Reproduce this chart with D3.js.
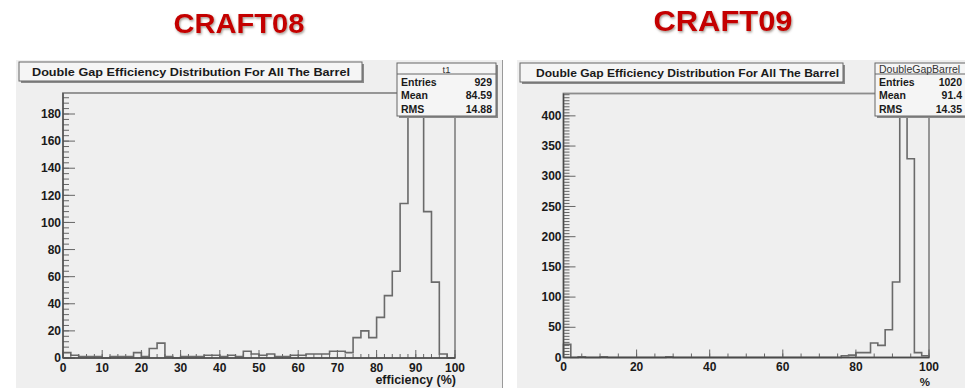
<!DOCTYPE html>
<html>
<head>
<meta charset="utf-8">
<script src="https://cdn.jsdelivr.net/npm/d3@7"></script>
<style>
  html, body { margin: 0; padding: 0; background: #fff; }
  svg { display: block; }
</style>
</head>
<body>
<svg id="chart" width="965" height="388"></svg>
<script>
// bin edges of both histograms (50 bins, 2 % wide)
var binEdges = [0, 2, 4, 6, 8, 10, 12, 14, 16, 18, 20, 22, 24, 26, 28, 30, 32, 34, 36, 38, 40,
  42, 44, 46, 48, 50, 52, 54, 56, 58, 60, 62, 64, 66, 68, 70, 72, 74, 76, 78, 80,
  82, 84, 86, 88, 90, 92, 94, 96, 98, 100];

var craft08Counts = [4, 2, 1, 1, 1, 0, 1, 1, 1, 4, 1, 7, 11, 1, 0, 1, 1, 1, 2, 2,
  1, 2, 1, 5, 3, 2, 3, 1, 1, 2, 2, 3, 3, 3, 5, 5, 4, 15, 20, 15,
  30, 46, 64, 114, 186, 180, 108, 56, 3, 0];
var craft09Counts = [22, 0, 1, 0, 0, 1, 0, 0, 0, 0, 0, 0, 0, 0, 1, 0, 0, 0, 0, 0,
  0, 0, 0, 0, 0, 0, 0, 0, 0, 0, 0, 0, 0, 0, 0, 0, 0, 0, 3, 4,
  8, 8, 24, 20, 46, 125, 416, 329, 8, 3];

var statLabels = ['Entries', 'Mean', 'RMS'];
var craft08Stats = ['929', '84.59', '14.88'];
var craft09Stats = ['1020', '91.4', '14.35'];

var craft08XTicks = [0, 10, 20, 30, 40, 50, 60, 70, 80, 90, 100];
var craft08YTicks = [0, 20, 40, 60, 80, 100, 120, 140, 160, 180];
var craft09XTicks = [0, 20, 40, 60, 80, 100];
var craft09YTicks = [0, 50, 100, 150, 200, 250, 300, 350, 400];

var runTitles = ['CRAFT08', 'CRAFT09'];
var histTitle = 'Double Gap Efficiency Distribution For All The Barrel';
var histNames = ['t1', 'DoubleGapBarrel'];
var xTitles = ['efficiency (%)', '%'];

var rootPlot = (function (undefined) {
  "use strict";

  function HistPanel(svg, options) {
    this.svg = svg;
    this.options = Object.assign({}, {
      fontFamily: '"Liberation Sans", Arial, Helvetica, sans-serif',
      lineColor: '#6a6a6a',
      axisColor: '#4a4a4a',
      labelSize: 12
    }, options);
    this.refs = { node: undefined, x: undefined, y: undefined };
  }

  HistPanel.prototype = function HistPanelProto() {

    function draw() {
      var o = this.options;
      this.refs.node = this.svg.append('g').attr('class', 'panel-' + o.name);

      this.refs.x = d3.scaleLinear().domain([0, 100]).range([o.frame.x0, o.frame.x1]);
      this.refs.y = d3.scaleLinear().domain([0, o.yMax]).range([o.frame.y0, o.frame.y1]);

      drawBackground.call(this);
      drawFrame.call(this);
      drawHist.call(this);
      drawAxes.call(this);
      drawTitleBox.call(this);
      drawStats.call(this);
      drawRunTitle.call(this);
    }

    function drawBackground() {
      var o = this.options;
      this.refs.node.append('rect')
        .attr('x', o.bg.x).attr('y', o.bg.y)
        .attr('width', o.bg.w).attr('height', o.bg.h)
        .attr('fill', '#efefef');
    }

    function drawFrame() {
      var f = this.options.frame;
      this.refs.node.append('rect')
        .attr('x', f.x0).attr('y', f.y1)
        .attr('width', f.x1 - f.x0).attr('height', f.y0 - f.y1)
        .attr('fill', 'none')
        .attr('stroke', '#8c8c8c')
        .attr('stroke-width', 1.8);
    }

    function drawHist() {
      var o = this.options, x = this.refs.x, y = this.refs.y;
      var pts = [[x(binEdges[0]), y(0)]];
      o.counts.forEach(function (c, i) {
        pts.push([x(binEdges[i]), y(c)]);
        pts.push([x(binEdges[i + 1]), y(c)]);
      });
      pts.push([x(binEdges[binEdges.length - 1]), y(0)]);

      this.refs.node.append('path')
        .attr('d', d3.line()(pts))
        .attr('fill', 'none')
        .attr('stroke', o.lineColor)
        .attr('stroke-width', 1.6);
    }

    function drawAxes() {
      var o = this.options, f = o.frame, x = this.refs.x, y = this.refs.y;
      var g = this.refs.node.append('g').attr('class', 'axes');

      // minor ticks first, major ones over them
      var xMinor = d3.range(0, 100 + 1e-9, o.xMinor);
      var yMinor = d3.range(0, o.yMax, o.yMinor);

      g.selectAll('line.xminor').data(xMinor).enter().append('line')
        .attr('class', 'xminor')
        .attr('x1', function (d) { return x(d); }).attr('x2', function (d) { return x(d); })
        .attr('y1', f.y0).attr('y2', f.y0 - 4)
        .attr('stroke', '#666');
      g.selectAll('line.xmajor').data(o.xTicks).enter().append('line')
        .attr('class', 'xmajor')
        .attr('x1', function (d) { return x(d); }).attr('x2', function (d) { return x(d); })
        .attr('y1', f.y0).attr('y2', f.y0 - 8)
        .attr('stroke', '#666');
      g.selectAll('line.yminor').data(yMinor).enter().append('line')
        .attr('class', 'yminor')
        .attr('y1', function (d) { return y(d); }).attr('y2', function (d) { return y(d); })
        .attr('x1', f.x0).attr('x2', f.x0 + 6)
        .attr('stroke', '#666');
      g.selectAll('line.ymajor').data(o.yTicks).enter().append('line')
        .attr('class', 'ymajor')
        .attr('y1', function (d) { return y(d); }).attr('y2', function (d) { return y(d); })
        .attr('x1', f.x0).attr('x2', f.x0 + 12)
        .attr('stroke', '#666');

      g.append('line')
        .attr('x1', f.x0).attr('x2', f.x1).attr('y1', f.y0).attr('y2', f.y0)
        .attr('stroke', o.axisColor).attr('stroke-width', 1.3);
      g.append('line')
        .attr('x1', f.x0).attr('x2', f.x0).attr('y1', f.y0).attr('y2', f.y1)
        .attr('stroke', o.axisColor).attr('stroke-width', 1.3);

      g.selectAll('text.xlab').data(o.xTicks).enter().append('text')
        .attr('class', 'xlab')
        .attr('x', function (d) { return x(d); })
        .attr('y', f.y0 + 13.5)
        .attr('text-anchor', 'middle')
        .attr('font-family', o.fontFamily)
        .attr('font-weight', 'bold')
        .attr('font-size', o.labelSize)
        .attr('fill', '#1a1a1a')
        .text(function (d) { return d; });
      g.selectAll('text.ylab').data(o.yTicks).enter().append('text')
        .attr('class', 'ylab')
        .attr('x', f.x0 - 2)
        .attr('y', function (d) { return y(d) + 4.2; })
        .attr('text-anchor', 'end')
        .attr('font-family', o.fontFamily)
        .attr('font-weight', 'bold')
        .attr('font-size', o.labelSize)
        .attr('fill', '#1a1a1a')
        .text(function (d) { return d; });

      g.append('text')
        .attr('x', f.x1 + 1)
        .attr('y', o.xTitleY)
        .attr('text-anchor', 'end')
        .attr('font-family', o.fontFamily)
        .attr('font-weight', 'bold')
        .attr('font-size', o.xTitleSize)
        .attr('fill', '#1a1a1a')
        .text(o.xTitle);
    }

    function drawTitleBox() {
      var o = this.options, b = o.titleBox;
      var g = this.refs.node.append('g').attr('class', 'title-box');
      g.append('rect')
        .attr('x', b.x + 2).attr('y', b.y + 2).attr('width', b.w).attr('height', b.h)
        .attr('fill', '#8a8a8a');
      g.append('rect')
        .attr('x', b.x).attr('y', b.y).attr('width', b.w).attr('height', b.h)
        .attr('fill', '#f5f5f5').attr('stroke', '#666').attr('stroke-width', 1);
      g.append('text')
        .attr('x', b.textX)
        .attr('y', b.y + 13.5)
        .attr('font-family', o.fontFamily)
        .attr('font-weight', 'bold')
        .attr('font-size', 10.5)
        .attr('fill', '#1a1a1a')
        .attr('textLength', b.textW)
        .attr('lengthAdjust', 'spacingAndGlyphs')
        .text(histTitle);
    }

    function drawStats() {
      var o = this.options, s = o.stats;
      var g = this.refs.node.append('g').attr('class', 'stats-box');
      g.append('rect')
        .attr('x', s.x + 2).attr('y', s.y + 2).attr('width', s.w).attr('height', s.h)
        .attr('fill', '#8a8a8a');
      g.append('rect')
        .attr('x', s.x).attr('y', s.y).attr('width', s.w).attr('height', s.h)
        .attr('fill', '#f5f5f5').attr('stroke', '#666').attr('stroke-width', 1);
      g.append('line')
        .attr('x1', s.x).attr('x2', s.x + s.w)
        .attr('y1', s.y + 11).attr('y2', s.y + 11)
        .attr('stroke', '#666');
      g.append('text')
        .attr('x', s.nameX)
        .attr('y', s.y + 9.5)
        .attr('text-anchor', s.nameAnchor)
        .attr('font-family', o.fontFamily)
        .attr('font-size', s.nameSize)
        .attr('fill', '#333')
        .text(o.histName);

      statLabels.forEach(function (lab, i) {
        var yy = s.y + 23 + i * 13.3;
        g.append('text')
          .attr('x', s.x + 4).attr('y', yy)
          .attr('font-family', o.fontFamily)
          .attr('font-weight', 'bold')
          .attr('font-size', 10.5)
          .attr('fill', '#1a1a1a')
          .text(lab);
        g.append('text')
          .attr('x', s.valueX).attr('y', yy)
          .attr('text-anchor', 'end')
          .attr('font-family', o.fontFamily)
          .attr('font-weight', 'bold')
          .attr('font-size', 10.5)
          .attr('fill', '#1a1a1a')
          .text(o.statValues[i]);
      });
    }

    function drawRunTitle() {
      var o = this.options, t = o.runTitle;
      this.refs.node.append('text')
        .attr('x', t.cx)
        .attr('y', t.y)
        .attr('text-anchor', 'middle')
        .attr('font-family', o.fontFamily)
        .attr('font-weight', 'bold')
        .attr('font-size', t.size)
        .attr('fill', '#c40000')
        .attr('textLength', t.w)
        .attr('lengthAdjust', 'spacingAndGlyphs')
        .attr('filter', 'url(#shade)')
        .text(o.runName);
    }

    return {
      draw: draw
    };
  }();

  function panel(svg, options) {
    var p = new HistPanel(svg, options);
    p.draw();
    return p;
  }

  return {
    panel: panel
  };
}());

var svg = d3.select('#chart');
svg.append('defs').append('filter')
  .attr('id', 'shade')
  .attr('x', '-10%').attr('y', '-20%').attr('width', '130%').attr('height', '160%')
  .append('feDropShadow')
  .attr('dx', 1).attr('dy', 1.5).attr('stdDeviation', 0.9)
  .attr('flood-color', '#5a4a3a').attr('flood-opacity', 0.55);

// thin divider between the two canvases
svg.append('line')
  .attr('x1', 502.5).attr('x2', 502.5).attr('y1', 60).attr('y2', 388)
  .attr('stroke', '#9a9a9a').attr('stroke-width', 1);

rootPlot.panel(svg, {
  name: 'craft08',
  runName: runTitles[0],
  histName: histNames[0],
  xTitle: xTitles[0],
  xTitleSize: 12.5,
  counts: craft08Counts,
  statValues: craft08Stats,
  xTicks: craft08XTicks,
  yTicks: craft08YTicks,
  xMinor: 2,
  yMinor: 4,
  yMax: 195.5,
  bg: { x: 16, y: 60, w: 486, h: 328 },
  frame: { x0: 63, x1: 455, y0: 358, y1: 93 },
  xTitleY: 384,
  titleBox: { x: 19, y: 62, w: 343, h: 19, textX: 32, textW: 318 },
  stats: { x: 397, y: 63, w: 99, h: 53, valueX: 492, nameX: 446.5, nameAnchor: 'middle', nameSize: 9.5 },
  runTitle: { cx: 239, y: 33, size: 27, w: 131 }
});

rootPlot.panel(svg, {
  name: 'craft09',
  runName: runTitles[1],
  histName: histNames[1],
  xTitle: xTitles[1],
  xTitleSize: 11.5,
  counts: craft09Counts,
  statValues: craft09Stats,
  xTicks: craft09XTicks,
  yTicks: craft09YTicks,
  xMinor: 5,
  yMinor: 5,
  yMax: 437,
  bg: { x: 517, y: 60, w: 448, h: 328 },
  frame: { x0: 563.5, x1: 929, y0: 357.5, y1: 93.5 },
  xTitleY: 386,
  titleBox: { x: 520, y: 63, w: 323, h: 19, textX: 536, textW: 303 },
  stats: { x: 875, y: 63, w: 100, h: 53, valueX: 962, nameX: 879, nameAnchor: 'start', nameSize: 10.5 },
  runTitle: { cx: 723, y: 31, size: 29, w: 139 }
});
</script>
</body>
</html>
